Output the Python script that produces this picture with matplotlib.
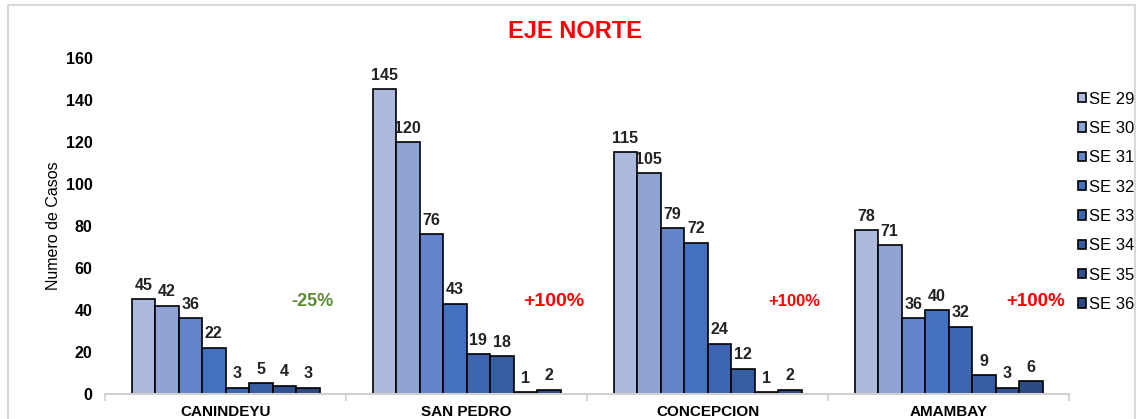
import numpy as np
import matplotlib.pyplot as plt
from matplotlib.patches import Rectangle

plt.rcParams['font.family'] = ['Liberation Sans', 'DejaVu Sans']

# data
departamentos = ['CANINDEYU', 'SAN PEDRO', 'CONCEPCION', 'AMAMBAY']
semanas = ['SE 29', 'SE 30', 'SE 31', 'SE 32', 'SE 33', 'SE 34', 'SE 35', 'SE 36']
casos = [
    [45, 42, 36, 22, 3, 5, 4, 3],
    [145, 120, 76, 43, 19, 18, 1, 2],
    [115, 105, 79, 72, 24, 12, 1, 2],
    [78, 71, 36, 40, 32, 9, 3, 6],
]
variacion = ['-25%', '+100%', '+100%', '+100%']
var_color = ['#5b8c32', '#ff0000', '#ff0000', '#ff0000']
var_size = [13, 14, 12, 13.5]

colores = ['#adb9dd', '#8fa3d5', '#6585ca', '#4371c1',
           '#3d65b0', '#365ca2', '#2f5190', '#2c4a82']

fig = plt.figure(figsize=(11.38, 4.19), dpi=100)
ax = fig.add_axes([0.0923, 0.0597, 0.8471, 0.8019])

# light border round the chart area
fig.patches.append(Rectangle((0.007, -0.05), 0.99, 1.038, transform=fig.transFigure,
                             fill=False, edgecolor='#d9d9d9', linewidth=1.5))

x = np.arange(len(departamentos))
n = len(semanas)
w = 0.78 / n
for i, se in enumerate(semanas):
    vals = [c[i] for c in casos]
    pos = x - 0.39 + w * (i + 0.5)
    bars = ax.bar(pos, vals, width=w, color=colores[i], edgecolor='black',
                  linewidth=1.2, label=se)
    for b, v in zip(bars, vals):
        ax.text(b.get_x() + b.get_width() / 2, v + 3, str(v), ha='center', va='bottom',
                fontsize=11.5, fontweight='bold', color='#222222')

for xi, t, c, s in zip(x, variacion, var_color, var_size):
    ax.text(xi + 0.36, 44, t, ha='center', va='center', fontsize=s,
            fontweight='bold', color=c)

ax.set_xlim(-0.5, len(departamentos) - 0.5)
ax.set_ylim(0, 160)
ax.set_yticks(range(0, 161, 20))
ax.set_xticks(x)
ax.set_xticklabels(departamentos, fontsize=11, fontweight='bold')
ax.set_xticks(np.arange(-0.5, len(departamentos), 1), minor=True)
ax.tick_params(axis='x', which='major', length=0, pad=8)
ax.tick_params(axis='x', which='minor', length=5, color='#d0d0d0', width=1.2)
ax.tick_params(axis='y', length=0, pad=9, labelsize=11.5)
for lab in ax.get_yticklabels():
    lab.set_fontweight('bold')
ax.set_ylabel('Numero de Casos', fontsize=11.5, labelpad=3)

for s in ['top', 'right', 'left']:
    ax.spines[s].set_visible(False)
ax.spines['bottom'].set_color('#d0d0d0')
ax.spines['bottom'].set_linewidth(1.5)

fig.text(0.505, 0.925, 'EJE NORTE', ha='center', va='center', fontsize=17,
         fontweight='bold', color='#ff0000')

leg = ax.legend(loc='center left', bbox_to_anchor=(1.009, 0.572), frameon=False,
                fontsize=12, handlelength=0.5, handleheight=0.5, handletextpad=0.2,
                labelspacing=0.86, borderaxespad=0, borderpad=0)

fig.savefig('out.png', dpi=100)
